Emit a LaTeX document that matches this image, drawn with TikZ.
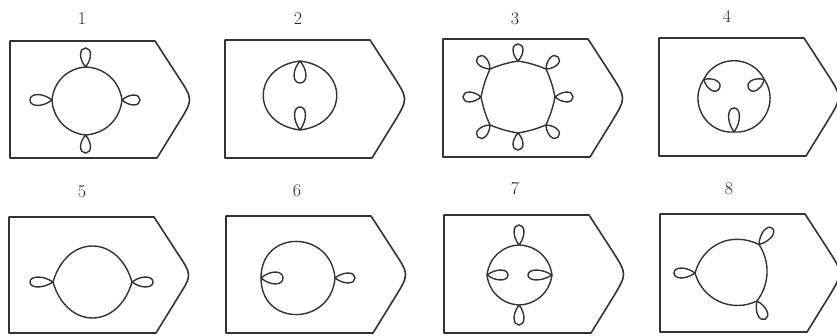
\documentclass[tikz,border=0pt]{standalone}
\newcommand\tagbox[3]{%
  \draw[box] (#1,#2) -- ({#1+145},#2) -- ({#1+168.7},{#2-36.5})
    .. controls ({#1+183},{(#2+#3)/2}) .. ({#1+169.5},{#3+36.5})
    -- ({#1+147},#3) -- (#1,#3) -- cycle;}
% petal: x, y, direction, length, width
\newcommand\petal[5]{%
  \begin{scope}[shift={(#1,#2)}, rotate=#3]
    \draw[curve] (0,0) .. controls ({0.45*#4},{0.7*#5}) and ({#4},{0.62*#5}) .. ({#4},0)
      .. controls ({#4},{-0.62*#5}) and ({0.45*#4},{-0.7*#5}) .. (0,0);
  \end{scope}}
\begin{document}
\begin{tikzpicture}[x=1pt,y=1pt,
  box/.style={draw=black!80, line width=1.6pt, line join=round},
  curve/.style={draw=black!80, line width=1.4pt},
  lbl/.style={font=\fontsize{18}{18}\selectfont, text=black!85, inner sep=0pt}]
\clip (0,0) rectangle (837,336);
% boxes
\tagbox{10}{295}{178}
\tagbox{225}{296}{178}
\tagbox{443}{297}{179}
\tagbox{659}{298}{180}
\tagbox{9}{119}{3}
\tagbox{226}{120}{3}
\tagbox{444}{121}{3}
\tagbox{660}{122}{4}
% labels
\node[lbl] (n1) at (82,317) {1};
\node[lbl] (n2) at (298,317.5) {2};
\node[lbl] (n3) at (515,317) {3};
\node[lbl] (n4) at (727,319.5) {4};
\node[lbl] (n5) at (82,144.5) {5};
\node[lbl] (n6) at (297,145.5) {6};
\node[lbl] (n7) at (515,147.5) {7};
\node[lbl] (n8) at (729,147.5) {8};
% panel 1
\draw[curve] (122,236) to[bend right=40] (85.5,269) to[bend right=40] (52,236)
  to[bend right=40] (85.5,201) to[bend right=40] (122,236);
\petal{85.5}{269}{90}{19}{10}
\petal{52}{236}{180}{22}{11}
\petal{122}{236}{0}{18}{10}
\petal{85.5}{201}{270}{18}{10}
% panel 2
\draw[curve] (300,275) .. controls (251,269) and (251,212) .. (300,206)
  .. controls (349,212) and (349,269) .. (300,275);
\petal{300}{275}{270}{22}{12}
\petal{300}{206}{90}{23}{11}
% panel 3
\draw[curve] (555,239) to[bend right=6] (546,267) to[bend right=6] (518,275)
  to[bend right=6] (490,267) to[bend right=6] (481,239) to[bend right=6] (490,211)
  to[bend right=6] (518,203) to[bend right=6] (546,211) to[bend right=6] (555,239);
\petal{555}{239}{0}{18}{10}
\petal{546}{267}{45}{17}{10}
\petal{518}{275}{90}{17}{10}
\petal{490}{267}{135}{17}{10}
\petal{481}{239}{180}{18}{10}
\petal{490}{211}{225}{17}{10}
\petal{518}{203}{270}{17}{10}
\petal{546}{211}{315}{17}{10}
% panel 4
\draw[curve] (764.3,256.5) to[bend right=64, looseness=1.18] (703.7,256.5)
  to[bend right=64, looseness=1.18] (734,204) to[bend right=64, looseness=1.18] (764.3,256.5);
\petal{703.7}{256.5}{-30}{18}{11}
\petal{764.3}{256.5}{210}{18}{11}
\petal{734}{204}{90}{24}{11}
% panel 5
\draw[curve] (132,54) .. controls (118,102) and (67,102) .. (53,54)
  .. controls (67,6) and (118,6) .. (132,54);
\petal{53}{54}{180}{23}{10}
\petal{132}{54}{0}{21}{10}
% panel 6
\draw[curve] (335,58) .. controls (331,106) and (261,107.5) .. (261,58)
  .. controls (261,8.5) and (331,10) .. (335,58);
\petal{261}{58}{0}{22}{12}
\petal{335}{58}{0}{20}{10}
% panel 7
\draw[curve] (552,61) to[bend right=40] (519,91) to[bend right=40] (487,61)
  to[bend right=40] (519,31) to[bend right=40] (552,61);
\petal{519}{91}{90}{20}{10}
\petal{519}{31}{270}{20}{10}
\petal{487}{61}{0}{21}{10}
\petal{552}{61}{180}{24}{10}
% panel 8
\draw[curve] (759,91.5) to[bend right=50, looseness=1.1] (695,63)
  to[bend right=50, looseness=1.05] (757,35) to[bend right=35, looseness=0.95] (759,91.5);
\petal{695}{63}{180}{21}{10}
\petal{759}{91.5}{51}{21}{10}
\petal{757}{35}{-66}{20}{10}
\end{tikzpicture}
\end{document}
